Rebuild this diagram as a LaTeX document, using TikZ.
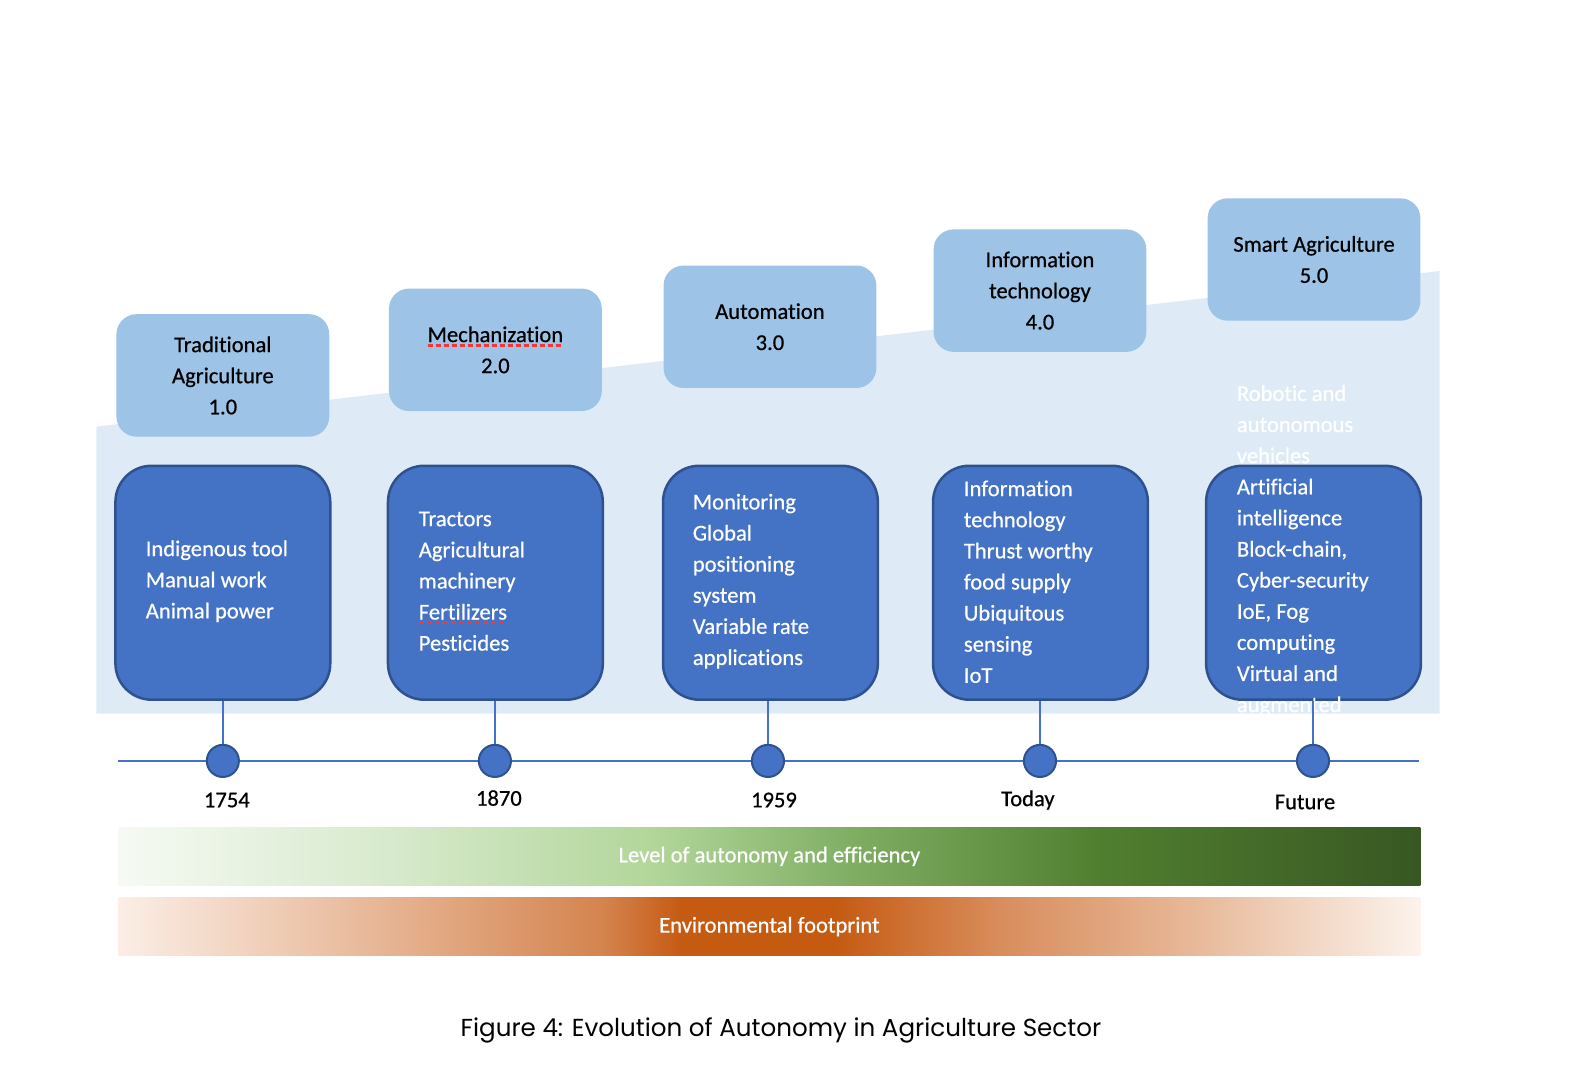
\documentclass[tikz,border=0pt]{standalone}
\usepackage{fontspec}
\setmainfont{Carlito}[Ligatures=NoCommon, FakeBold=0.6]
\newfontfamily\capfont{Poppins}
\definecolor{topblue}{HTML}{9DC3E6}
\definecolor{bgblue}{HTML}{DEEBF7}
\definecolor{darkblue}{HTML}{4472C4}
\definecolor{borderblue}{HTML}{2F528F}
\definecolor{g1}{HTML}{F6FAF3}
\definecolor{g2}{HTML}{D6E9CB}
\definecolor{g3}{HTML}{B2D69A}
\definecolor{g4}{HTML}{7FAE63}
\definecolor{g5}{HTML}{507E2F}
\definecolor{g6}{HTML}{385723}
\definecolor{o1}{HTML}{FBEEE6}
\definecolor{o2}{HTML}{E9BC9E}
\definecolor{o3}{HTML}{D4844F}
\definecolor{o4}{HTML}{C55A11}
\definecolor{o5}{HTML}{D98E5E}
\definecolor{o6}{HTML}{E8BB9C}
\definecolor{o7}{HTML}{FCF3EC}
\definecolor{spellred}{HTML}{F03A3A}
\pgfdeclarehorizontalshading{greenbar}{100bp}{color(0bp)=(g1); color(25bp)=(g1); color(35.87bp)=(g2); color(45.51bp)=(g3); color(53.22bp)=(g4); color(62.86bp)=(g5); color(75bp)=(g6); color(100bp)=(g6)}
\pgfdeclarehorizontalshading{orangebar}{100bp}{color(0bp)=(o1); color(25bp)=(o1); color(33.94bp)=(o2); color(43.58bp)=(o3); color(46.67bp)=(o4); color(52.45bp)=(o4); color(59bp)=(o5); color(66.71bp)=(o6); color(75bp)=(o7); color(100bp)=(o7)}
\tikzset{
  mainfont/.style={font=\fontsize{22.5bp}{31bp}\selectfont},
  topbox/.style={fill=topblue, rounded corners=20bp, minimum width=212bp, minimum height=122bp, inner sep=0pt, align=center, mainfont, text=black},
  itembox/.style={fill=darkblue, draw=borderblue, line width=2.5bp, rounded corners=36bp, minimum width=214bp, minimum height=233bp, inner sep=0pt},
  itemtext/.style={align=left, mainfont, text=white, anchor=west, inner sep=0pt},
  dotnode/.style={circle, fill=darkblue, draw=borderblue, line width=2bp, minimum size=32bp, inner sep=0pt},
  stem/.style={draw=darkblue, line width=1.3bp},
  yearlabel/.style={mainfont, text=black, inner sep=0pt},
  spell/.style={draw=spellred, line width=3.5bp, dash pattern=on 5bp off 3bp},
  barnode/.style={minimum width=1297bp, minimum height=58bp, inner sep=0pt, text=white, mainfont}
}
\begin{document}
\begin{tikzpicture}[x=1bp,y=-1bp]
\useasboundingbox (0,0) rectangle (1566,1075);
% background region
\fill[bgblue] (96,425) -- (1434,270) -- (1434,711) -- (96,711) -- cycle;
% top boxes
\node[topbox] (t1) at (222,374) {Traditional\\Agriculture\\1.0};
\node[topbox] (t2) at (493.5,348.5) {Mechanization\\2.0};
\node[topbox] (t3) at (767,325.5) {Automation\\3.0};
\node[topbox] (t4) at (1036,289.5) {Information\\technology\\4.0};
\node[topbox] (t5) at (1309,258.5) {Smart Agriculture\\5.0};
% item boxes
\node[itembox] (b1) at (222,580.5) {};
\node[itembox] (b2) at (493.5,580.5) {};
\node[itembox] (b3) at (767.5,580.5) {};
\node[itembox] (b4) at (1036.5,580.5) {};
\node[itembox] (b5) at (1308.5,580.5) {};
\node[itemtext] (x1) at (145,579) {Indigenous tool\\Manual work\\Animal power};
\node[itemtext] (x2) at (417,579) {Tractors\\Agricultural\\machinery\\Fertilizers\\Pesticides};
\node[itemtext] (x3) at (690,579) {Monitoring\\Global\\positioning\\system\\Variable rate\\applications};
\node[itemtext] (x4) at (960,579.5) {Information\\technology\\Thrust worthy\\food supply\\Ubiquitous\\sensing\\IoT};
\begin{scope}
\clip (96,425) -- (1434,270) -- (1434,711) -- (96,711) -- cycle;
\node[itemtext] (x5) at (1232,548.5) {Robotic and\\autonomous\\vehicles\\Artificial\\intelligence\\Block-chain,\\Cyber-security\\IoE, Fog\\computing\\Virtual and\\augmented};
\end{scope}
% spell-check marks
\draw[spell] (426,344) -- (561,344);
\draw[spell] (417,620) -- (504,620);
% timeline
\coordinate (tl) at (118,758);
\coordinate (tr) at (1414,758);
\draw[stem] (tl) -- (tr);
\coordinate (d1) at (222,758);
\coordinate (d2) at (493,758);
\coordinate (d3) at (765,758);
\coordinate (d4) at (1036,758);
\coordinate (d5) at (1308,758);
\foreach \i in {1,...,5} {\draw[stem] (d\i) -- (d\i |- b\i.south);}
\foreach \i in {1,...,5} {\node[dotnode] (c\i) at (d\i) {};}
\node[yearlabel] (y1) at (226,797) {1754};
\node[yearlabel] (y2) at (497,795) {1870};
\node[yearlabel] (y3) at (771,797) {1959};
\node[yearlabel] (y4) at (1024,797) {Today};
\node[yearlabel] (y5) at (1300,799) {Future};
% bars
\node[barnode, shade, shading=greenbar] (gbar) at (766.5,853) {Level of autonomy and efficiency};
\node[barnode, shade, shading=orangebar] (obar) at (766.5,923) {Environmental footprint};
% caption
\node[font=\capfont\fontsize{24.5bp}{28bp}\selectfont, inner sep=0pt] (cap) at (778,1026) {Figure 4: Evolution of Autonomy in Agriculture Sector};
\end{tikzpicture}
\end{document}
